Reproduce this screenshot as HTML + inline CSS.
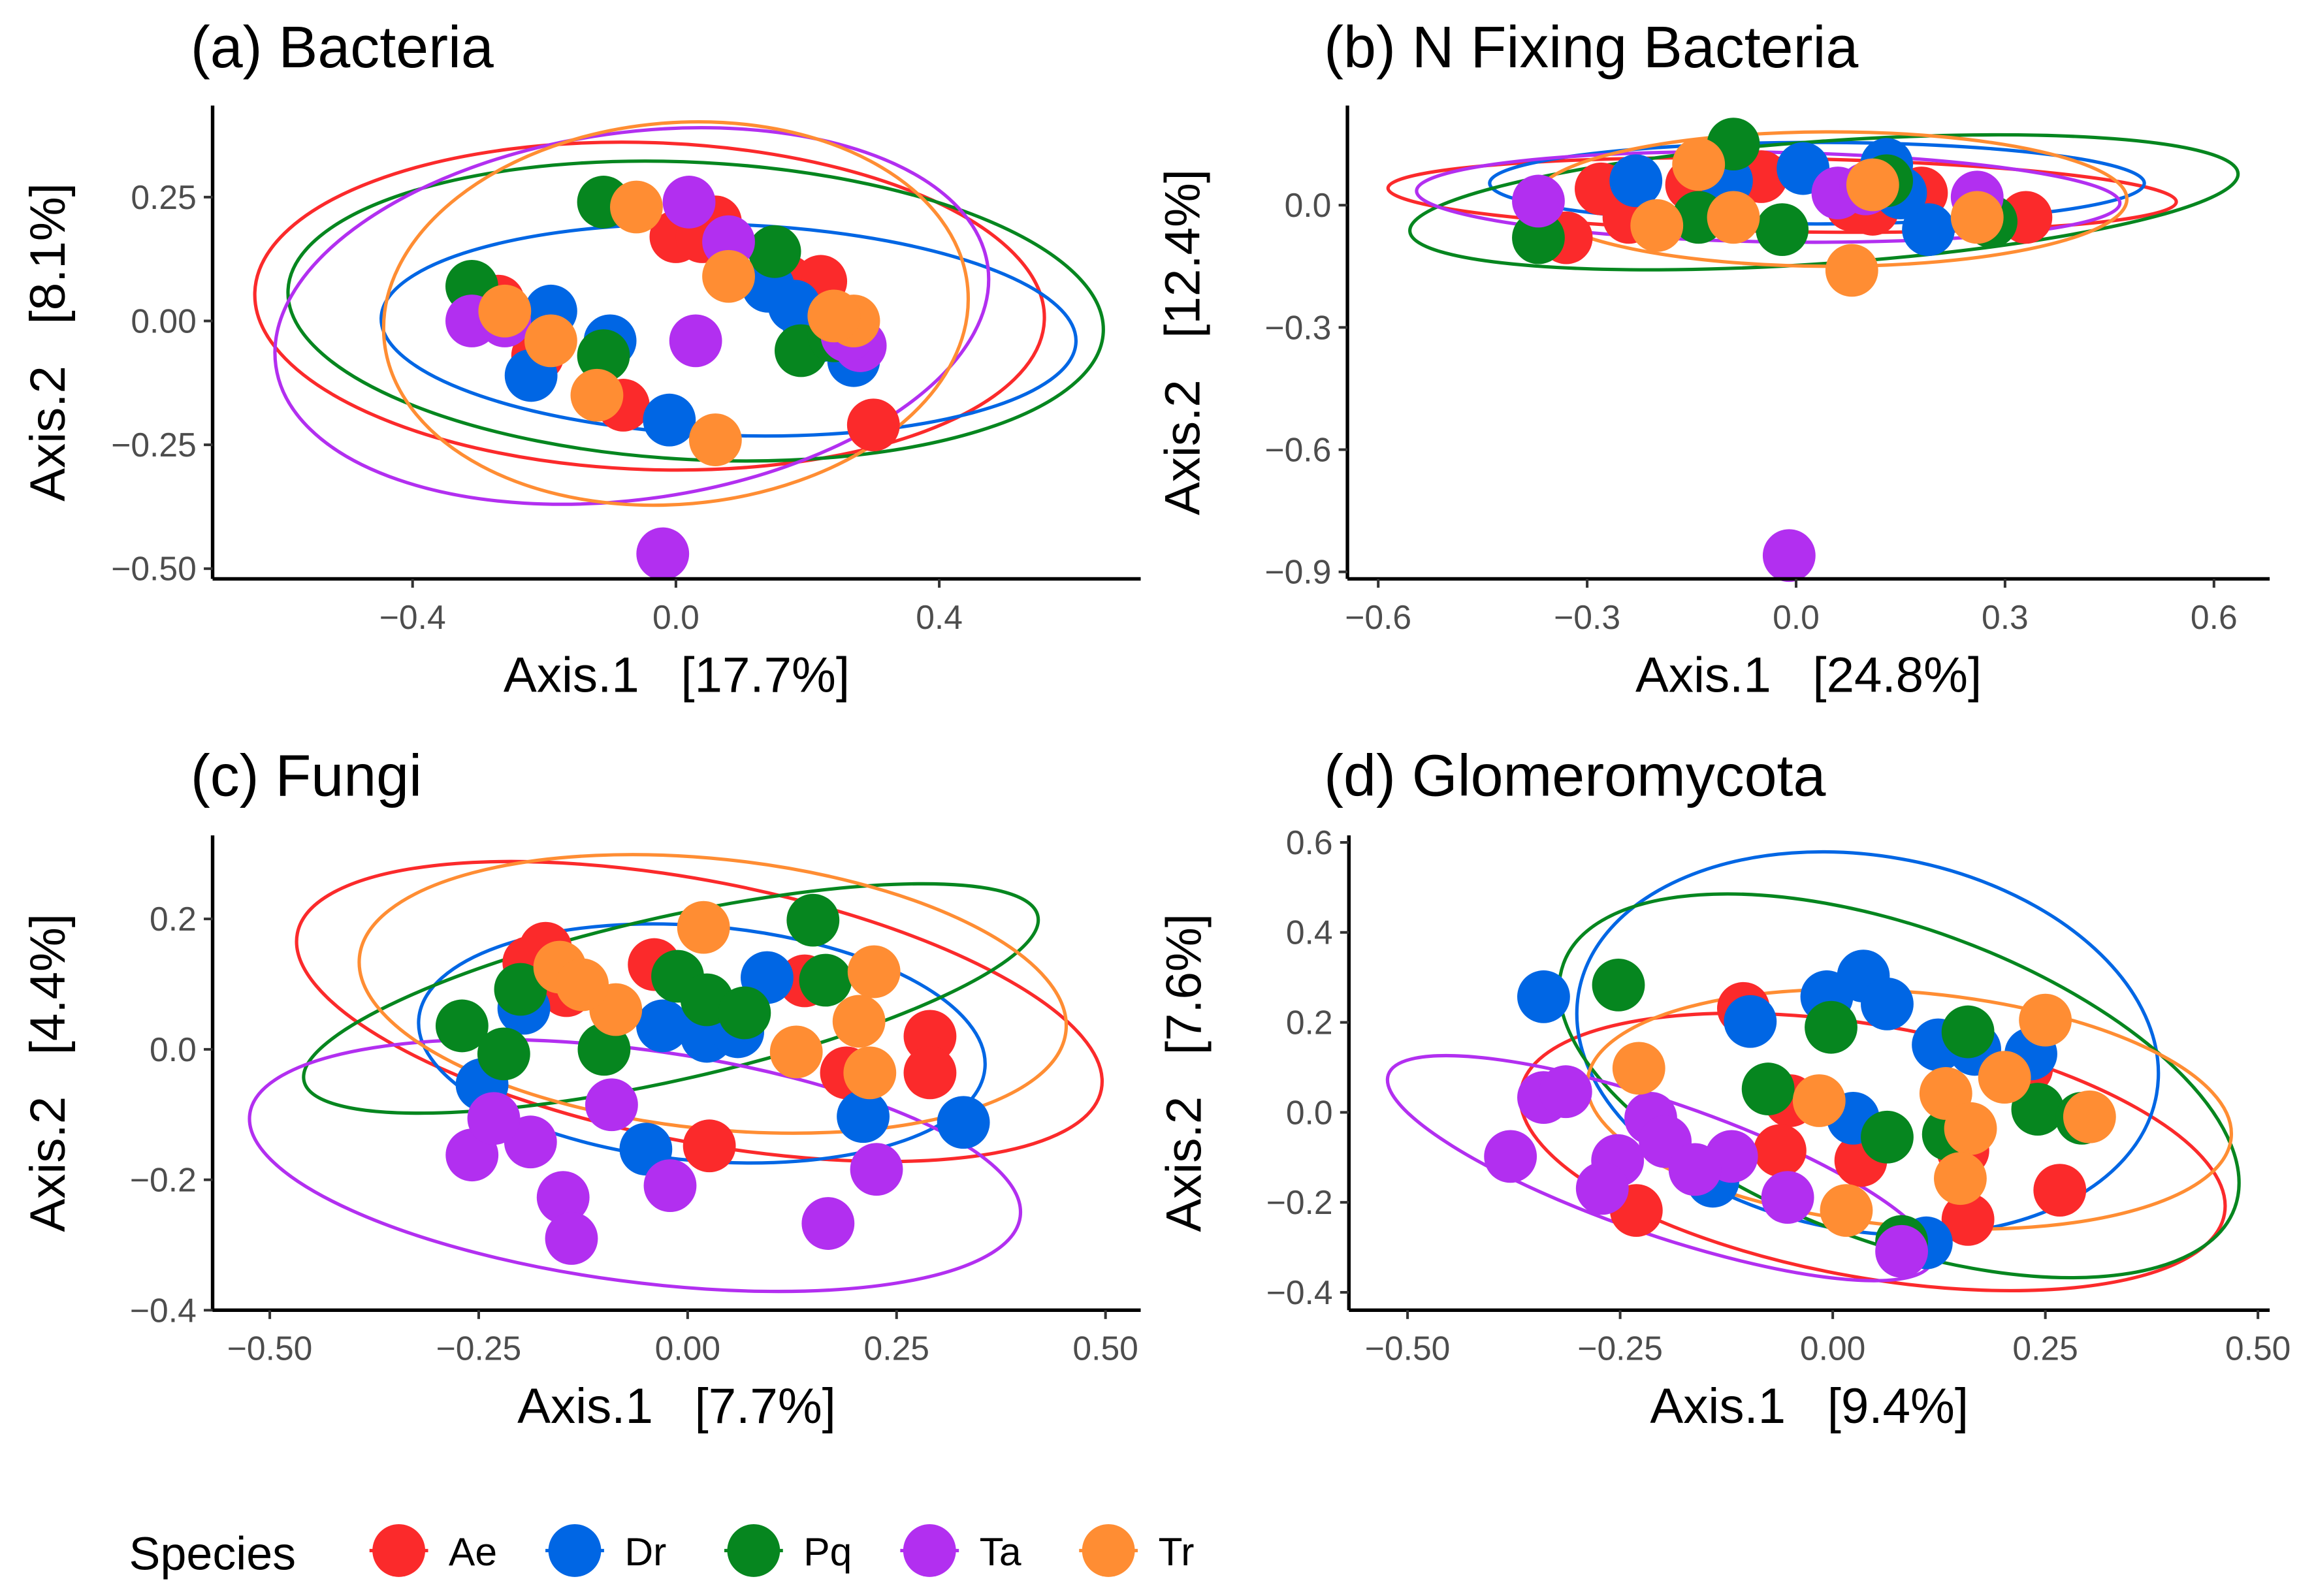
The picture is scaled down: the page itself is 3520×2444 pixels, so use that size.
<!DOCTYPE html>
<html><head><meta charset="utf-8"><title>PCoA by Species</title>
<style>
html,body{margin:0;padding:0;background:#fff;}
svg{display:block;}
text{font-family:"Liberation Sans",Arial,sans-serif;}
.tick{font-size:23px;fill:#4d4d4d;}
.atitle{font-size:34px;fill:#000;white-space:pre;}
.ptitle{font-size:40px;fill:#000;}
</style></head>
<body>
<svg id="fig" width="3520" height="2444" viewBox="0 0 1568 1089" preserveAspectRatio="none" xmlns="http://www.w3.org/2000/svg"></svg>
<script>
// ---- shared ----
const species = ["Ae","Dr","Pq","Ta","Tr"];
const colors = ["#fb2a2b","#0066e4","#06861f","#b22ff0","#ff8d33"];

// ---- panel (a) Bacteria ----
const aXTicks = [-0.4,0.0,0.4];
const aXTickLabels = ["\u22120.4","0.0","0.4"];
const aYTicks = [0.25,0.00,-0.25,-0.50];
const aYTickLabels = ["0.25","0.00","\u22120.25","\u22120.50"];
const aX = [
 [-0.27,-0.21,-0.08,0.00,0.04,0.06,0.17,0.22,0.26,0.30],
 [-0.19,-0.22,-0.10,-0.01,0.14,0.20,0.25,0.27,0.22,0.18],
 [-0.31,-0.11,-0.11,0.15,0.19,0.24],
 [-0.31,-0.26,0.02,0.03,0.08,0.28,-0.02,0.26],
 [-0.26,-0.19,-0.06,-0.12,0.08,0.06,0.27,0.24]];
const aY = [
 [0.04,-0.07,-0.17,0.17,0.17,0.20,0.08,0.08,-0.02,-0.21],
 [0.02,-0.11,-0.04,-0.20,0.07,0.00,-0.02,-0.08,-0.03,0.03],
 [0.07,0.24,-0.07,0.14,-0.06,-0.03],
 [0.00,0.00,0.24,-0.04,0.16,-0.05,-0.47,-0.03],
 [0.02,-0.04,0.23,-0.15,0.09,-0.24,0.00,0.01]];
const aEllCx = [-0.04,0.08,0.03,-0.067,0.00];
const aEllCy = [0.03,-0.018,0.02,0.01,0.015];
const aEllRx = [0.60,0.528,0.62,0.546,0.445];
const aEllRy = [0.33,0.213,0.30,0.37,0.385];
const aEllRot = [2,2,3,-8,-5];

// ---- panel (b) N Fixing Bacteria ----
const bXTicks = [-0.6,-0.3,0.0,0.3,0.6];
const bXTickLabels = ["\u22120.6","\u22120.3","0.0","0.3","0.6"];
const bYTicks = [0.0,-0.3,-0.6,-0.9];
const bYTickLabels = ["0.0","\u22120.3","\u22120.6","\u22120.9"];
const bX = [
 [-0.28,-0.24,-0.15,-0.05,0.08,0.11,0.18,0.33,-0.33],
 [-0.23,-0.10,0.01,0.13,0.19,0.15],
 [-0.37,-0.14,-0.02,-0.09,0.13,0.28],
 [-0.37,0.06,0.26,-0.01,0.10],
 [-0.20,-0.14,-0.09,0.08,0.11,0.26]];
const bY = [
 [0.04,-0.03,0.05,0.07,0.00,-0.01,0.03,-0.03,-0.08],
 [0.06,0.06,0.09,0.10,-0.06,0.03],
 [-0.08,-0.03,-0.06,0.15,0.06,-0.04],
 [0.01,0.03,0.02,-0.86,0.04],
 [-0.05,0.10,-0.03,-0.16,0.05,-0.03]];
const bEllCx = [-0.02,0.03,0.04,-0.04,0.05];
const bEllCy = [0.025,0.054,0.007,0.02,0.015];
const bEllRx = [0.566,0.47,0.596,0.505,0.425];
const bEllRy = [0.09,0.10,0.15,0.11,0.165];
const bEllRot = [1,0,-4,1,0];

// ---- panel (c) Fungi ----
const cXTicks = [-0.50,-0.25,0.00,0.25,0.50];
const cXTickLabels = ["\u22120.50","\u22120.25","0.00","0.25","0.50"];
const cYTicks = [0.2,0.0,-0.2,-0.4];
const cYTickLabels = ["0.2","0.0","\u22120.2","\u22120.4"];
const cX = [
 [-0.17,-0.145,-0.04,0.14,0.19,0.29,0.29,0.026,-0.19],
 [-0.196,-0.246,-0.05,-0.03,0.023,0.06,0.095,0.21,0.33],
 [-0.27,-0.22,-0.20,-0.10,-0.012,0.023,0.068,0.15,0.165],
 [-0.258,-0.188,-0.149,-0.139,-0.021,-0.091,0.168,0.226,-0.232],
 [-0.153,-0.086,0.019,0.13,0.223,0.205,0.218,-0.126]];
const cY = [
 [0.155,0.09,0.13,0.105,-0.036,0.02,-0.036,-0.148,0.133],
 [0.063,-0.054,-0.153,0.036,0.02,0.027,0.11,-0.103,-0.112],
 [0.036,-0.007,0.092,0.0,0.112,0.076,0.056,0.198,0.106],
 [-0.162,-0.142,-0.227,-0.29,-0.209,-0.085,-0.267,-0.184,-0.106],
 [0.126,0.061,0.187,-0.004,0.119,0.043,-0.036,0.099]];
const cEllCx = [0.014,0.017,-0.02,-0.063,0.03];
const cEllCy = [0.058,0.009,0.078,-0.178,0.085];
const cEllRx = [0.49,0.34,0.45,0.465,0.425];
const cEllRy = [0.20,0.18,0.125,0.178,0.207];
const cEllRot = [11,5,-12.7,7.6,6];

// ---- panel (d) Glomeromycota ----
const dXTicks = [-0.50,-0.25,0.00,0.25,0.50];
const dXTickLabels = ["\u22120.50","\u22120.25","0.00","0.25","0.50"];
const dYTicks = [0.6,0.4,0.2,0.0,-0.2,-0.4];
const dYTickLabels = ["0.6","0.4","0.2","0.0","\u22120.2","\u22120.4"];
const dX = [
 [-0.105,-0.05,-0.062,0.033,0.153,0.159,0.267,-0.231,0.228],
 [-0.34,-0.097,-0.007,0.036,0.064,0.124,0.167,0.233,0.024,-0.141,0.11],
 [-0.252,-0.002,-0.076,0.064,0.136,0.159,0.241,0.293,0.081],
 [-0.34,-0.314,-0.379,-0.214,-0.197,-0.253,-0.271,-0.119,-0.162,-0.053,0.081],
 [-0.228,-0.016,0.016,0.133,0.162,0.15,0.202,0.25,0.302]];
const dY = [
 [0.231,0.026,-0.085,-0.107,-0.085,-0.238,-0.173,-0.218,0.098],
 [0.257,0.202,0.257,0.303,0.241,0.15,0.14,0.13,-0.013,-0.153,-0.29],
 [0.283,0.189,0.052,-0.055,-0.049,0.179,0.007,-0.013,-0.287],
 [0.033,0.046,-0.098,-0.013,-0.065,-0.107,-0.169,-0.098,-0.127,-0.189,-0.309],
 [0.098,0.026,-0.218,0.042,-0.036,-0.147,0.078,0.205,-0.01]];
const dEllCx = [0.047,0.041,0.078,-0.203,0.09];
const dEllCy = [-0.088,0.153,0.059,-0.124,0.007];
const dEllRx = [0.42,0.345,0.42,0.338,0.38];
const dEllRy = [0.28,0.417,0.35,0.147,0.26];
const dEllRot = [10,10,20,19,5];

const NS = "http://www.w3.org/2000/svg";
const fig = document.getElementById("fig");
function mk(tag, attrs, parent){
  const e = document.createElementNS(NS, tag);
  for (const k in attrs) e.setAttribute(k, attrs[k]);
  (parent||fig).appendChild(e);
  return e;
}

function panel(cfg){
  const g = mk("g", {});
  
  
  const sx = v => cfg.x0 + cfg.kx * v;
  const sy = v => cfg.y0 - cfg.ky * v;
  const t = mk("text", {x: cfg.titleX, y: cfg.titleY, class: "ptitle"}, g);
  t.textContent = cfg.title;
  
  
  for (let s = 0; s < species.length; s++){
    const cx = sx(cfg.ecx[s]), cy = sy(cfg.ecy[s]);
    const el = mk("ellipse", {cx: cx, cy: cy, rx: cfg.erx[s]*cfg.kx, ry: cfg.ery[s]*cfg.ky,
      transform: "rotate(" + cfg.erot[s] + " " + cx + " " + cy + ")",
      fill: "none", stroke: colors[s], "stroke-width": 2.3}, g);
    
    
  }
  for (let s = 0; s < species.length; s++){
    for (let i = 0; i < cfg.px[s].length; i++){
      const c = mk("circle", {cx: sx(cfg.px[s][i]), cy: sy(cfg.py[s][i]), r: 18, fill: colors[s]}, g);
      
      
    }
  }
  const xa = mk("line", {x1: cfg.axL, x2: cfg.axR, y1: cfg.axB, y2: cfg.axB, stroke: "#000", "stroke-width": 2.4}, g);
  
  
  const ya = mk("line", {x1: cfg.axL, x2: cfg.axL, y1: cfg.axT, y2: cfg.axB, stroke: "#000", "stroke-width": 2.4}, g);
  
  
  for (let i = 0; i < cfg.xt.length; i++){
    const x = sx(cfg.xt[i]);
    mk("line", {x1: x, x2: x, y1: cfg.axB, y2: cfg.axB + 6, stroke: "#333", "stroke-width": 1.8}, g);
    const tl = mk("text", {x: x, y: cfg.axB + 34, "text-anchor": "middle", class: "tick"}, g);
    tl.textContent = cfg.xtl[i];
    
    
  }
  for (let i = 0; i < cfg.yt.length; i++){
    const y = sy(cfg.yt[i]);
    mk("line", {x1: cfg.axL - 6, x2: cfg.axL, y1: y, y2: y, stroke: "#333", "stroke-width": 1.8}, g);
    const tl = mk("text", {x: cfg.axL - 11, y: y + 8, "text-anchor": "end", class: "tick"}, g);
    tl.textContent = cfg.ytl[i];
    
    
  }
  const xt = mk("text", {x: (cfg.axL + cfg.axR)/2, y: cfg.axB + 77, "text-anchor": "middle", class: "atitle"}, g);
  xt.textContent = cfg.xTitle;
  
  
  const ym = (cfg.axT + cfg.axB)/2;
  const yt = mk("text", {x: 0, y: 0, "text-anchor": "middle", class: "atitle",
     transform: "translate(" + (cfg.axL - 101) + "," + ym + ") rotate(-90)"}, g);
  yt.textContent = cfg.yTitle;
  
  
}

panel({name:"panel-bacteria", title:"(a) Bacteria", titleX:130, titleY:46,
  x0:461, kx:449, y0:219, ky:338, axL:145, axR:778, axT:72, axB:395,
  xt:aXTicks, xtl:aXTickLabels, yt:aYTicks, ytl:aYTickLabels,
  px:aX, py:aY, ecx:aEllCx, ecy:aEllCy, erx:aEllRx, ery:aEllRy, erot:aEllRot,
  xTitle:"Axis.1   [17.7%]", yTitle:"Axis.2   [8.1%]"});
panel({name:"panel-n-fixing-bacteria", title:"(b) N Fixing Bacteria", titleX:903, titleY:46,
  x0:1225, kx:475, y0:140, ky:278, axL:919, axR:1548, axT:72, axB:395,
  xt:bXTicks, xtl:bXTickLabels, yt:bYTicks, ytl:bYTickLabels,
  px:bX, py:bY, ecx:bEllCx, ecy:bEllCy, erx:bEllRx, ery:bEllRy, erot:bEllRot,
  xTitle:"Axis.1   [24.8%]", yTitle:"Axis.2   [12.4%]"});
panel({name:"panel-fungi", title:"(c) Fungi", titleX:130, titleY:543,
  x0:469, kx:570, y0:716, ky:445, axL:145, axR:778, axT:570, axB:894,
  xt:cXTicks, xtl:cXTickLabels, yt:cYTicks, ytl:cYTickLabels,
  px:cX, py:cY, ecx:cEllCx, ecy:cEllCy, erx:cEllRx, ery:cEllRy, erot:cEllRot,
  xTitle:"Axis.1   [7.7%]", yTitle:"Axis.2   [4.4%]"});
panel({name:"panel-glomeromycota", title:"(d) Glomeromycota", titleX:903, titleY:543,
  x0:1250, kx:580, y0:759, ky:307, axL:920, axR:1548, axT:570, axB:894,
  xt:dXTicks, xtl:dXTickLabels, yt:dYTicks, ytl:dYTickLabels,
  px:dX, py:dY, ecx:dEllCx, ecy:dEllCy, erx:dEllRx, ery:dEllRy, erot:dEllRot,
  xTitle:"Axis.1   [9.4%]", yTitle:"Axis.2   [7.6%]"});

// ---- legend ----
const lg = mk("g", {});


const lt = mk("text", {x: 88, y: 1071, class: "atitle", style: "font-size:32px"}, lg);
lt.textContent = "Species";


const legX = [272, 392, 514, 634, 756];
for (let s = 0; s < species.length; s++){
  const eg = mk("g", {}, lg);
  
  
  mk("line", {x1: legX[s]-20, x2: legX[s]+20, y1: 1058, y2: 1058, stroke: colors[s], "stroke-width": 2.3}, eg);
  mk("circle", {cx: legX[s], cy: 1058, r: 18, fill: colors[s]}, eg);
  const tx = mk("text", {x: legX[s] + 34, y: 1068, class: "tick", style: "fill:#000;font-size:27px"}, eg);
  tx.textContent = species[s];
}
</script>
</body></html>
